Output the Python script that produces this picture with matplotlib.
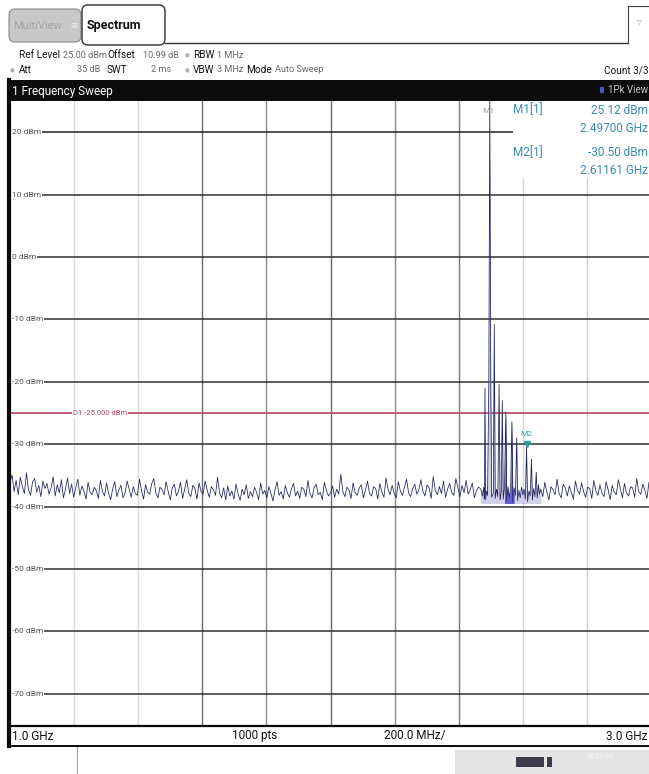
import numpy as np
import matplotlib
matplotlib.use('Agg')
import matplotlib.pyplot as plt
from matplotlib.patches import Rectangle, FancyBboxPatch

plt.rcParams['font.family'] = ['Roboto', 'DejaVu Sans']

# Рамки развертки
f_start, f_stop = 1.0, 3.0
ref_level, bottom_level = 25.0, -75.0
grid_db = [20, 10, 0, -10, -20, -30, -40, -50, -60, -70]
grid_labels = ['20 dBm', '10 dBm', '0 dBm', '-10 dBm', '-20 dBm', '-30 dBm',
               '-40 dBm', '-50 dBm', '-60 dBm', '-70 dBm']
grid_freq = [1.2, 1.4, 1.6, 1.8, 2.0, 2.2, 2.4, 2.6, 2.8]
grid_shade = ['#dadada', '#dadada', '#6a6a6a', '#8a8a8a', '#6a6a6a',
              '#8a8a8a', '#7a7a7a', '#d4d4d4', '#cccccc']
display_line = -25.0

# Шумовая полка слева от пика (1.0 .. 2.468 ГГц)
noise_left = [
    -36.2, -34.9, -37.6, -35.8, -38.1, -35.3, -36.8, -37.9, -34.6, -37.3, -38.2, -36.0, -35.5, -37.7, -36.6, -38.4, -35.9, -37.1, -36.3, -38.0,
    -37.0, -35.2, -38.3, -36.5, -37.8, -35.7, -38.6, -37.2, -35.4, -37.9, -36.4, -38.5, -37.0, -35.6, -38.2, -36.7, -37.5, -38.8, -36.1, -37.7,
    -38.1, -36.9, -37.4, -38.7, -35.8, -37.6, -38.3, -36.2, -37.9, -38.9, -37.1, -36.0, -38.4, -37.3, -36.6, -38.6, -37.8, -35.9, -37.2, -38.5,
    -36.8, -37.9, -38.2, -35.6, -37.4, -38.8, -36.5, -37.7, -38.0, -36.3, -35.5, -37.8, -38.6, -36.9, -37.3, -38.1, -36.0, -37.6, -38.9, -37.0,
    -36.4, -38.3, -37.5, -36.1, -38.7, -37.2, -35.7, -37.9, -38.4, -36.6, -37.1, -38.8, -36.2, -37.6, -38.0, -35.9, -37.4, -38.5, -36.8, -37.3,
    -38.2, -35.3, -37.8, -38.6, -37.0, -38.9, -36.7, -38.3, -37.5, -38.8, -36.4, -37.9, -39.0, -37.2, -38.1, -36.5, -38.7, -37.6, -38.4, -36.9,
    -37.7, -38.9, -36.2, -38.0, -37.4, -38.6, -36.8, -37.9, -39.1, -37.3, -36.0, -38.2, -37.6, -38.8, -36.6, -37.8, -38.5, -37.1, -36.3, -38.3,
    -37.5, -38.7, -36.9, -37.2, -38.4, -35.8, -37.9, -38.6, -37.0, -36.4, -38.1, -37.7, -38.9, -36.1, -37.4, -38.3, -37.8, -36.7, -38.5, -37.2,
    -38.0, -34.8, -37.6, -38.4, -36.9, -37.3, -38.7, -36.2, -37.8, -38.2, -37.0, -36.5, -38.6, -37.4, -35.9, -37.9, -38.3, -36.8, -37.1, -38.8,
    -36.3, -37.7, -38.5, -35.4, -37.2, -38.1, -36.6, -37.9, -38.6, -36.0, -37.5, -38.2, -36.9, -35.6, -37.8, -38.4, -37.1, -36.4, -38.0, -37.3,
    -35.7, -37.6, -38.3, -36.5, -37.0, -38.7, -35.2, -37.4, -38.1, -36.8, -37.9, -35.9, -38.5, -37.2, -36.3, -37.7, -38.2, -35.5, -37.0, -38.4,
    -36.6, -37.8, -35.8, -38.0, -37.3, -36.2, -38.6, -37.5, -36.9, -37.1,
]

# Пик несущей и гребёнка спуров
peak_freq = [2.470, 2.474, 2.478, 2.480, 2.482, 2.484, 2.487, 2.490, 2.494, 2.497, 2.500, 2.503,
             2.508, 2.511, 2.514, 2.518, 2.522, 2.526, 2.529, 2.533, 2.536, 2.539, 2.543, 2.547,
             2.550, 2.554, 2.558, 2.562, 2.566, 2.569, 2.573, 2.577, 2.581, 2.584, 2.588, 2.592,
             2.596, 2.600, 2.604, 2.608, 2.6116, 2.615, 2.619, 2.623, 2.627, 2.630, 2.634, 2.638,
             2.642, 2.645, 2.649, 2.652]
peak_db = [-37.4, -38.3, -36.9, -38.8, -21.0, -38.9, -37.5, -38.2, -20.0, 25.12, -20.0, -38.5,
           -37.9, -10.8, -38.7, -37.2, -38.4, -20.4, -38.9, -37.6, -23.0, -38.8, -37.0, -24.8,
           -39.1, -36.8, -38.5, -37.3, -26.4, -39.3, -37.0, -38.2, -29.0, -39.0, -37.4, -38.6,
           -36.9, -38.1, -37.2, -38.8, -30.5, -39.2, -37.5, -38.3, -32.4, -38.9, -37.1, -38.4,
           -34.5, -38.6, -36.5, -38.0]

# Шумовая полка справа (2.656 .. 3.0 ГГц)
noise_right = [
    -37.2, -38.4, -36.1, -37.7, -38.9, -36.8, -37.3, -38.1, -35.6, -37.9, -38.6, -36.4, -37.0, -38.3, -36.7, -37.8, -38.8, -35.9, -37.4, -38.0,
    -36.2, -37.6, -38.5, -36.9, -37.1, -38.7, -35.8, -37.5, -38.2, -36.5, -37.9, -38.4, -36.0, -37.3, -38.9, -36.6, -37.7, -38.1, -35.7, -37.2,
    -38.6, -36.3, -37.8, -38.3, -36.8, -37.0, -38.5, -35.5, -37.6, -38.0, -36.4, -37.4, -38.7, -36.1, -37.5,
]

m1_freq, m1_db = 2.497, 25.12
m2_freq, m2_db = 2.6116, -30.50

trace_f = np.concatenate([np.linspace(1.0, 2.468, len(noise_left)), peak_freq,
                          np.linspace(2.656, 3.0, len(noise_right))])
trace_db = np.concatenate([noise_left, peak_db, noise_right])

W, H = 649, 774
fig = plt.figure(figsize=(W / 100, H / 100), dpi=100)

# Область графика (в пикселях: x 10..651, y 101..725)
ax = fig.add_axes([10 / W, (H - 725) / H, 641 / W, 624 / H])
ax.set_xlim(f_start, f_stop)
ax.set_ylim(bottom_level, ref_level)
ax.set_xticks([])
ax.set_yticks([])
for s in ax.spines.values():
    s.set_visible(False)

for f, c in zip(grid_freq, grid_shade):
    ax.axvline(f, color=c, lw=1.0, zorder=1)
for d, lab in zip(grid_db, grid_labels):
    if d == 20:
        ax.plot([f_start, 2.569], [d, d], color='#202020', lw=1.1, zorder=2)
    else:
        ax.axhline(d, color='#303030', lw=1.1, zorder=2)
    ax.text(0.003, d, lab, transform=ax.get_yaxis_transform(), fontsize=6,
            color='#505050', va='center', ha='left', zorder=3,
            bbox=dict(boxstyle='square,pad=0.1', fc='white', ec='none'))

# Display line D1
ax.axhline(display_line, color='#c4506e', lw=1.3, zorder=3)
ax.text(0.14, display_line, 'D1 -25.000 dBm', transform=ax.get_yaxis_transform(),
        fontsize=5.5, color='#b04868', va='center', ha='center', zorder=4,
        bbox=dict(boxstyle='square,pad=0.1', fc='white', ec='none'))

# Белая подложка под таблицей маркеров
ax.add_patch(Rectangle((2.569, 12.7), 0.5, 13, fc='white', ec='none', zorder=2.5))

# Трасса
pk = (trace_f >= 2.468) & (trace_f <= 2.656)
ax.fill_between(trace_f[pk], trace_db[pk], -39.5, color='#bcbce0', alpha=0.7, lw=0, zorder=4)
blue = pk & (trace_f >= 2.543) & (trace_f <= 2.575)
ax.fill_between(trace_f, trace_db, -39.5, where=blue, color='#3c3cc8', alpha=0.75, lw=0, zorder=4)
ax.plot(trace_f, trace_db, color='#20205a', lw=0.55, zorder=5)

# Маркеры
ax.text(m1_freq - 0.005, 23.4, 'M1', fontsize=6, color='#909090', ha='center', va='center', zorder=6)
ax.plot([m2_freq], [m2_db + 0.6], marker='v', ms=4.5, color='#2a9aa8', zorder=6)
ax.text(m2_freq, -28.3, 'M2', fontsize=6, color='#3a9ab0', ha='center', va='center', zorder=6)

# Интерфейс прибора поверх всего
ui = fig.add_axes([0, 0, 1, 1], zorder=10)
ui.set_xlim(0, W)
ui.set_ylim(H, 0)
ui.axis('off')
ui.patch.set_alpha(0)

# Вкладки
ui.add_patch(FancyBboxPatch((9, 9), 72, 33, boxstyle='round,pad=0,rounding_size=6',
                            fc='#c8c8c8', ec='#8a8a8a', lw=0.8))
ui.text(13, 26, 'MultiView', fontsize=8, color='#a4a4a4', va='center')
ui.text(74, 26, '⊞', fontsize=6, color='#ececec', va='center', ha='center')
ui.add_patch(FancyBboxPatch((82, 5), 83, 40, boxstyle='round,pad=0,rounding_size=6',
                            fc='white', ec='#303030', lw=1.0))
ui.text(87, 25, 'Spectrum', fontsize=9, fontweight='bold', color='#101010', va='center')
ui.plot([165, 628], [43, 43], color='#303030', lw=1.0)
ui.plot([628, 628], [6, 43], color='#404040', lw=0.8)
ui.plot([628, 649], [6, 6], color='#404040', lw=0.8)
ui.text(639, 22, '▿', fontsize=7, color='#b0b0b0', ha='center', va='center')

# Параметры развертки
lbl = dict(fontsize=7.2, color='#101010', va='center')
val = dict(fontsize=6.6, color='#6a6a6a', va='center')
ui.text(19, 55, 'Ref Level', **lbl)
ui.text(63, 55, '25.00 dBm', **val)
ui.text(107, 55, 'Offset', **lbl)
ui.text(143, 55, '10.99 dB', **val)
ui.text(185, 55, '●', fontsize=4, color='#a8b0c0', va='center')
ui.text(193, 55, 'RBW', **lbl)
ui.text(217, 55, '1 MHz', **val)
ui.text(10, 70, '●', fontsize=4, color='#a8b0c0', va='center')
ui.text(19, 70, 'Att', **lbl)
ui.text(100, 70, '35 dB', ha='right', **val)
ui.text(107, 70, 'SWT', **lbl)
ui.text(171, 70, '2 ms', ha='right', **val)
ui.text(185, 70, '●', fontsize=4, color='#a8b0c0', va='center')
ui.text(193, 70, 'VBW', **lbl)
ui.text(217, 70, '3 MHz', **val)
ui.text(246, 70, 'Mode', **lbl)
ui.text(275, 70, 'Auto Sweep', **val)
ui.text(648, 70, 'Count 3/3', ha='right', **lbl)

# Черная полоса заголовка
ui.add_patch(Rectangle((9, 80), 640, 21, fc='#0c0c0c', ec='none'))
ui.text(12, 91, '1 Frequency Sweep', fontsize=8.5, color='white', va='center')
ui.add_patch(Rectangle((600, 87), 4, 6, fc='#4a5ab8', ec='none'))
ui.text(648, 90, '1Pk View', fontsize=7, color='#c8c8c8', va='center', ha='right')

# Таблица маркеров
mk = dict(fontsize=8.5, color='#3a8cb0', va='center')
ui.text(513, 110, 'M1[1]', **mk)
ui.text(648, 110, '25.12 dBm', ha='right', **mk)
ui.text(648, 128, '2.49700 GHz', ha='right', **mk)
ui.text(513, 153, 'M2[1]', **mk)
ui.text(648, 153, '-30.50 dBm', ha='right', **mk)
ui.text(648, 170, '2.61161 GHz', ha='right', **mk)

# Рамка и нижняя строка
ui.plot([9, 9], [80, 746], color='#0a0a0a', lw=3)
ui.plot([9, 649], [726, 726], color='#0a0a0a', lw=1.6)
ui.plot([9, 649], [746, 746], color='#0a0a0a', lw=1.4)
ft = dict(fontsize=8.5, color='#101010', va='center')
ui.text(12, 736, '1.0 GHz', **ft)
ui.text(255, 736, '1000 pts', ha='center', **ft)
ui.text(415, 736, '200.0 MHz/', ha='center', **ft)
ui.text(648, 736, '3.0 GHz', ha='right', **ft)

# Статусная строка
ui.plot([77, 77], [747, 774], color='#a0a0a0', lw=0.8)
ui.add_patch(Rectangle((455, 750), 194, 24, fc='#e4e4e4', ec='none'))
ui.add_patch(Rectangle((516, 757), 28, 10, fc='#3c3c4c', ec='none'))
ui.add_patch(Rectangle((547, 757), 5, 10, fc='#3c3c4c', ec='none'))
ui.text(600, 756, '08:21:05', fontsize=5, color='#f4f4f4', va='center', ha='center')

fig.savefig('out.png', dpi=100)
